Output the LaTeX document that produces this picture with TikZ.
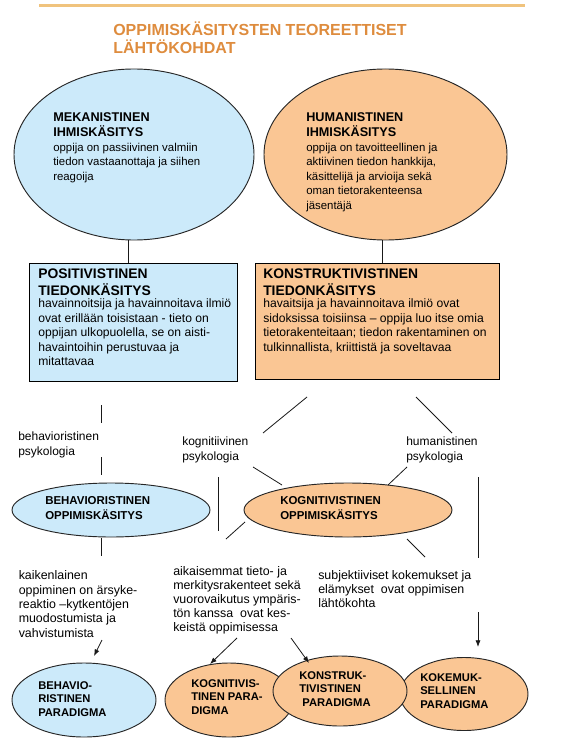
\documentclass[tikz,border=0pt]{standalone}
\usepackage{fontspec}
\setmainfont{Liberation Sans}
\usetikzlibrary{shapes.geometric,arrows.meta,calc}
\definecolor{ovalblue}{RGB}{204,234,250}
\definecolor{ovalorange}{RGB}{250,198,148}
\definecolor{titleorange}{RGB}{222,140,62}
\definecolor{ruleorange}{RGB}{240,195,125}
\newcommand\fsz[2]{\fontsize{#1}{#2}\selectfont}
\tikzset{
  oval/.style={ellipse, inner sep=0pt, line width=0.7pt, draw=black!85},
  blueoval/.style={oval, fill=ovalblue},
  orangeoval/.style={oval, fill=ovalorange},
  infobox/.style={rectangle, inner sep=0pt, line width=0.75pt, draw=black},
  txt/.style={anchor=north west, inner sep=0pt, align=left},
  ovalhead/.style={txt, font=\bfseries\fsz{9.5}{11.25}},
  ovaltxt/.style={txt, font=\fsz{8.55}{10.85}},
  boxhead/.style={txt, font=\bfseries\fsz{10.4}{12.75}},
  boxtxt/.style={txt, font=\fsz{9.1}{10.9}},
  midhead/.style={txt, font=\bfseries\fsz{8.6}{11.25}},
  parahead/.style={txt, font=\bfseries\fsz{8.4}{10.1}},
  labtxt/.style={txt, font=\fsz{9}{11.25}},
  notetxt/.style={txt, font=\fsz{9.3}{10.7}},
  link/.style={line width=0.6pt, draw=black!90},
  linkarrow/.style={link, -{Latex[length=5pt, width=3.8pt]}},
}

\begin{document}
\begin{tikzpicture}[x=0.75pt, y=-0.75pt]
\useasboundingbox (0,0) rectangle (561,755);
% title
\draw[ruleorange, line width=2.25pt] (39,6) -- (525,6);
\node[txt, font=\bfseries\fsz{12}{13.5}, text=titleorange] (title) at (113,22)
  {OPPIMISKÄSITYSTEN TEOREETTISET\\LÄHTÖKOHDAT};
% conceptions of man
\node[blueoval, minimum width=180pt, minimum height=128.25pt] (mek) at (134,154.5) {};
\node[orangeoval, minimum width=182.25pt, minimum height=128.25pt] (hum) at (385.5,154.5) {};
\node[ovalhead] (mekhead) at (53,112.4) {MEKANISTINEN\\IHMISKÄSITYS};
\node[ovaltxt] (mektxt) at (53,143) {oppija on passiivinen valmiin\\tiedon vastaanottaja ja siihen\\reagoija};
\node[ovalhead] (humhead) at (306,112.4) {HUMANISTINEN\\IHMISKÄSITYS};
\node[ovaltxt] (humtxt) at (306,143) {oppija on tavoitteellinen ja\\aktiivinen tiedon hankkija,\\käsittelijä ja arvioija sekä\\oman tietorakenteensa\\jäsentäjä};
% conceptions of knowledge
\node[infobox, fill=ovalblue, minimum width=156pt, minimum height=88.5pt] (pos) at (133,322) {};
\node[infobox, fill=ovalorange, minimum width=183pt, minimum height=87pt] (kon) at (377,321) {};
\node[boxhead] (poshead) at (38,269) {POSITIVISTINEN\\TIEDONKÄSITYS};
\node[boxtxt] (postxt) at (38,298.8) {havainnoitsija ja havainnoitava ilmiö\\ovat erillään toisistaan - tieto on\\oppijan ulkopuolella, se on aisti-\\havaintoihin perustuvaa ja\\mitattavaa};
\node[boxhead] (konhead) at (263,269) {KONSTRUKTIVISTINEN\\TIEDONKÄSITYS};
\node[boxtxt] (kontxt) at (263,298.8) {havaitsija ja havainnoitava ilmiö ovat\\sidoksissa toisiinsa -- oppija luo itse omia\\tietorakenteitaan; tiedon rakentaminen on\\tulkinnallista, kriittistä ja soveltavaa};
\coordinate (mekfoot) at ($(mek.south)+(-6,0)$);
\coordinate (humfoot) at ($(hum.south)+(-3.5,0)$);
\draw[link] (mekfoot) -- (mekfoot |- pos.north);
\draw[link] (humfoot) -- (humfoot |- kon.north);
% psychologies
\node[labtxt] (behlab) at (18,431.8) {behavioristinen\\psykologia};
\node[labtxt] (koglab) at (182,436.8) {kognitiivinen\\psykologia};
\node[labtxt] (humlab) at (406,436.8) {humanistinen\\psykologia};
% conceptions of learning
\node[blueoval, minimum width=148.5pt, minimum height=40.5pt] (beh) at (111,510) {};
\node[orangeoval, minimum width=156pt, minimum height=40.5pt] (kog) at (348,510) {};
\node[midhead] (behhead) at (45,495.9) {BEHAVIORISTINEN\\OPPIMISKÄSITYS};
\node[midhead] (koghead) at (280,495.9) {KOGNITIVISTINEN\\OPPIMISKÄSITYS};
% free ends of the link stubs
\coordinate (bs1) at (101,405); \coordinate (bs2) at (101,423);
\coordinate (bs3) at (101,457); \coordinate (bs4) at (101,475);
\coordinate (ks1) at (307,397); \coordinate (ks2) at (263,433);
\coordinate (hs1) at (416,397); \coordinate (hs2) at (452,433);
\coordinate (ks3) at (253,467); \coordinate (ks4) at (282,485);
\coordinate (hs3) at (407,467); \coordinate (hs4) at (388,485);
\coordinate (vs1) at (218,477); \coordinate (vs2) at (218,531);
\coordinate (rs1) at (478,477); \coordinate (rs2) at (478,558);
\coordinate (bs5) at (101,538); \coordinate (bs6) at (101,556);
\coordinate (ds1) at (245,522); \coordinate (ds2) at (226,539);
\coordinate (ds3) at (407,539); \coordinate (ds4) at (425,557);
\draw[link] (bs1) -- (bs2); \draw[link] (bs3) -- (bs4);
\draw[link] (ks1) -- (ks2); \draw[link] (hs1) -- (hs2);
\draw[link] (ks3) -- (ks4); \draw[link] (hs3) -- (hs4);
\draw[link] (vs1) -- (vs2); \draw[link] (rs1) -- (rs2);
\draw[link] (bs5) -- (bs6);
\draw[link] (ds1) -- (ds2); \draw[link] (ds3) -- (ds4);
% notes on learning
\node[notetxt] (behnote) at (18.5,570.7) {kaikenlainen\\oppiminen on ärsyke-\\reaktio --kytkentöjen\\muodostumista ja\\vahvistumista};
\node[notetxt, font=\fsz{9.3}{10.35}] (kognote) at (173,566.7) {aikaisemmat tieto- ja\\merkitysrakenteet sekä\\vuorovaikutus ympäris-\\tön kanssa\ \ ovat kes-\\keistä oppimisessa};
\node[notetxt, font=\fsz{9.3}{10.5}] (humnote) at (318,570.7) {subjektiiviset kokemukset ja\\elämykset\ \ ovat oppimisen\\lähtökohta};
% paradigms (the constructivist one lies on top)
\node[blueoval, minimum width=108pt, minimum height=55.5pt] (behp) at (84,700) {};
\node[orangeoval, minimum width=96pt, minimum height=55.5pt] (kogp) at (229,700) {};
\node[orangeoval, minimum width=96pt, minimum height=54.75pt] (kokp) at (464,694) {};
\node[orangeoval, minimum width=100.5pt, minimum height=52.5pt] (konp) at (340,691) {};
\node[parahead] (behptxt) at (38,681) {BEHAVIO-\\RISTINEN\\PARADIGMA};
\node[parahead] (kogptxt) at (191,679) {KOGNITIVIS-\\TINEN PARA-\\DIGMA};
\node[parahead] (konptxt) at (299,671) {KONSTRUK-\\TIVISTINEN\\\ PARADIGMA};
\node[parahead] (kokptxt) at (420,673) {KOKEMUK-\\SELLINEN\\PARADIGMA};
% arrows into the paradigms
\coordinate (ba1) at (102,640); \coordinate (ba2) at (94,656);
\coordinate (ka1) at (237,638); \coordinate (ka2) at (210,664);
\coordinate (ca1) at (291,638); \coordinate (ca2) at (309,663);
\coordinate (ea1) at (478,612); \coordinate (ea2) at (478,647);
\draw[linkarrow] (ba1) -- (ba2);
\draw[linkarrow] (ka1) -- (ka2);
\draw[linkarrow] (ca1) -- (ca2);
\draw[linkarrow] (ea1) -- (ea2);
\end{tikzpicture}
\end{document}
